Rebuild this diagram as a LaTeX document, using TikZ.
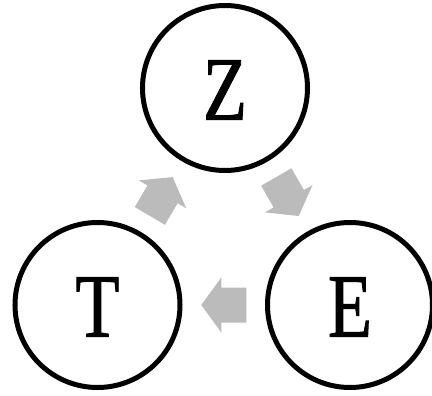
\documentclass[tikz,border=0pt]{standalone}
\usepackage{fontspec}
\setmainfont{Liberation Serif}
\newfontfamily\letterfont[FakeBold=1.2]{Liberation Serif}
\usepackage{graphicx}
\definecolor{arrowgray}{RGB}{187,187,187}
\newcommand\lettr[1]{\raisebox{-2pt}[\height][0pt]{\scalebox{0.8}[1]{#1}}}
\begin{document}
\begin{tikzpicture}[x=1pt,y=-1pt,
  state/.style={circle, draw=black, line width=5pt, minimum size=165pt,
    inner sep=0pt, font=\letterfont\fontsize{90}{90}\selectfont},
  blockarrow/.pic={\fill[arrowgray] (-22.5,-17.5) -- (2.5,-17.5) -- (2.5,-27.5)
    -- (22.5,0) -- (2.5,27.5) -- (2.5,17.5) -- (-22.5,17.5) -- cycle;}]
\useasboundingbox (0,0) rectangle (432,396);
\node[state] (Z) at (225,88) {\lettr{Z}};
\node[state] (T) at (97.5,305) {\lettr{T}};
\node[state] (E) at (350,305) {\lettr{E}};
\path (Z) -- (E) pic[midway, sloped, allow upside down] {blockarrow};
\path (E) -- (T) pic[midway, sloped, allow upside down] {blockarrow};
\path (T) -- (Z) pic[midway, sloped, allow upside down] {blockarrow};
\end{tikzpicture}
\end{document}
